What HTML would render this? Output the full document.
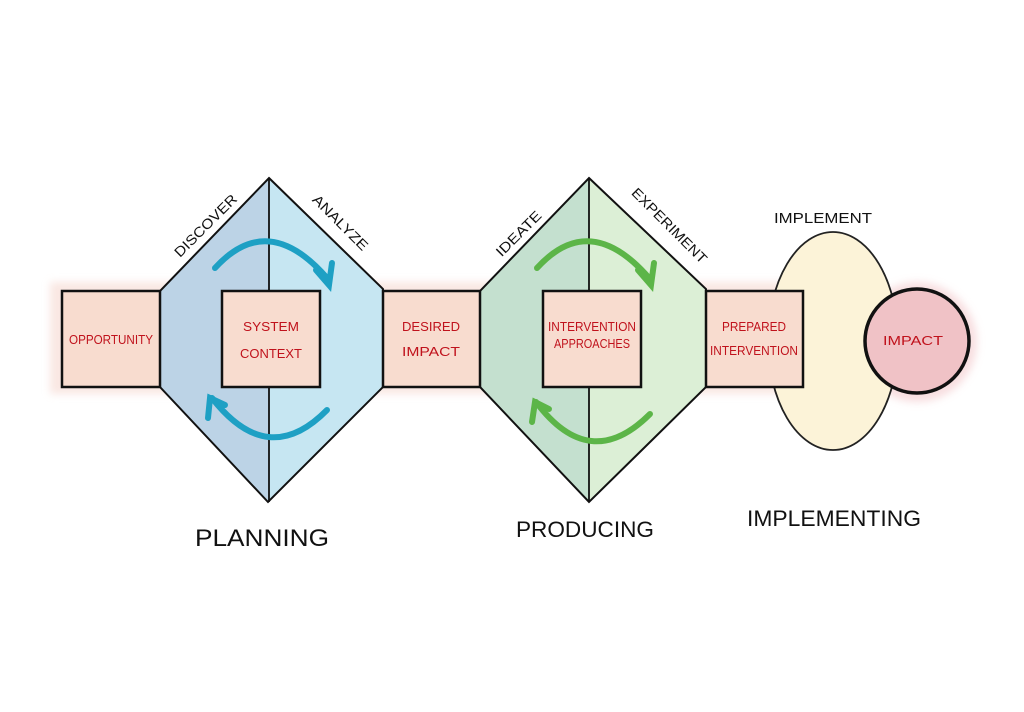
<!DOCTYPE html>
<html><head><meta charset="utf-8"><style>
html,body{margin:0;padding:0;background:#fff;}
svg{display:block;}
text{font-family:"Liberation Sans",sans-serif;}
.r{fill:#c0121c;font-size:13px;text-anchor:middle;}
.k{fill:#111;text-anchor:middle;}
</style></head><body>
<svg width="1024" height="712" viewBox="0 0 1024 712" xmlns="http://www.w3.org/2000/svg">
<defs>
<filter id="blur"><feGaussianBlur stdDeviation="4"/></filter>
</defs>
<rect width="1024" height="712" fill="#fff"/>
<rect x="50" y="282" width="760" height="112" fill="#f6d8d0" opacity="0.6" filter="url(#blur)"/>
<circle cx="917" cy="342" r="60" fill="#f3c9cc" opacity="0.6" filter="url(#blur)"/>
<polygon points="269,178 269,502 160,387 160,291" fill="#bcd3e6"/>
<polygon points="269,178 383,289 383,387 269,502" fill="#c6e6f2"/>
<polygon points="269,178 383,289 383,387 268,502 160,387 160,291" fill="none" stroke="#111" stroke-width="2"/>
<line x1="269" y1="178" x2="269" y2="502" stroke="#111" stroke-width="1.8"/>
<polygon points="589,178 589,502 480,387 480,291" fill="#c4e0cf"/>
<polygon points="589,178 706,289 706,387 589,502" fill="#dcefd6"/>
<polygon points="589,178 706,289 706,387 589,502 480,387 480,291" fill="none" stroke="#111" stroke-width="2"/>
<line x1="589" y1="178" x2="589" y2="502" stroke="#111" stroke-width="1.8"/>
<ellipse cx="833" cy="341" rx="65" ry="109" fill="#fcf3d8" stroke="#222" stroke-width="1.8"/>
<g fill="#f8dccf" stroke="#111" stroke-width="2.5">
<rect x="62" y="291" width="98" height="96"/>
<rect x="222" y="291" width="98" height="96"/>
<rect x="383" y="291" width="97" height="96"/>
<rect x="543" y="291" width="98" height="96"/>
<rect x="706" y="291" width="97" height="96"/>
</g>
<circle cx="917" cy="341" r="52" fill="#f0c2c6" stroke="#111" stroke-width="3.5"/>
<g fill="none" stroke="#1ea0c4" stroke-width="6" stroke-linecap="round">
<path d="M215,268 Q268,210 327,278"/>
<path d="M316,270 L329,285 L332,263"/>
<path d="M327,410 Q268,470 212,398"/>
<path d="M208,418 L210,398 L225,405"/>
</g>
<g fill="none" stroke="#5cb548" stroke-width="6" stroke-linecap="round">
<path d="M537,268 Q590,210 649,278"/>
<path d="M638,270 L651,285 L654,263"/>
<path d="M650,414 Q590,474 536,402"/>
<path d="M532,422 L535,402 L549,409"/>
</g>
<text class="r" x="111" y="344" textLength="84" lengthAdjust="spacingAndGlyphs">OPPORTUNITY</text>
<text class="r" x="271" y="331" textLength="56" lengthAdjust="spacingAndGlyphs">SYSTEM</text>
<text class="r" x="271" y="358" textLength="62" lengthAdjust="spacingAndGlyphs">CONTEXT</text>
<text class="r" x="431" y="331" textLength="58" lengthAdjust="spacingAndGlyphs">DESIRED</text>
<text class="r" x="431" y="356" textLength="58" lengthAdjust="spacingAndGlyphs">IMPACT</text>
<text class="r" x="592" y="331" textLength="88" lengthAdjust="spacingAndGlyphs">INTERVENTION</text>
<text class="r" x="592" y="348" textLength="76" lengthAdjust="spacingAndGlyphs">APPROACHES</text>
<text class="r" x="754" y="331" textLength="64" lengthAdjust="spacingAndGlyphs">PREPARED</text>
<text class="r" x="754" y="355" textLength="88" lengthAdjust="spacingAndGlyphs">INTERVENTION</text>
<text class="r" x="913" y="345" textLength="60" lengthAdjust="spacingAndGlyphs">IMPACT</text>
<text class="k" font-size="14" transform="translate(209,229) rotate(-45)" textLength="82" lengthAdjust="spacingAndGlyphs">DISCOVER</text>
<text class="k" font-size="14" transform="translate(337,226) rotate(45)" textLength="72" lengthAdjust="spacingAndGlyphs">ANALYZE</text>
<text class="k" font-size="14" transform="translate(522,237) rotate(-45)" textLength="58" lengthAdjust="spacingAndGlyphs">IDEATE</text>
<text class="k" font-size="14" transform="translate(666,229) rotate(45)" textLength="100" lengthAdjust="spacingAndGlyphs">EXPERIMENT</text>
<text class="k" x="823" y="223" font-size="15" textLength="98" lengthAdjust="spacingAndGlyphs">IMPLEMENT</text>
<text class="k" x="262" y="546" font-size="24" textLength="134" lengthAdjust="spacingAndGlyphs">PLANNING</text>
<text class="k" x="585" y="537" font-size="22" textLength="138" lengthAdjust="spacingAndGlyphs">PRODUCING</text>
<text class="k" x="834" y="526" font-size="22" textLength="174" lengthAdjust="spacingAndGlyphs">IMPLEMENTING</text>
</svg>
</body></html>
